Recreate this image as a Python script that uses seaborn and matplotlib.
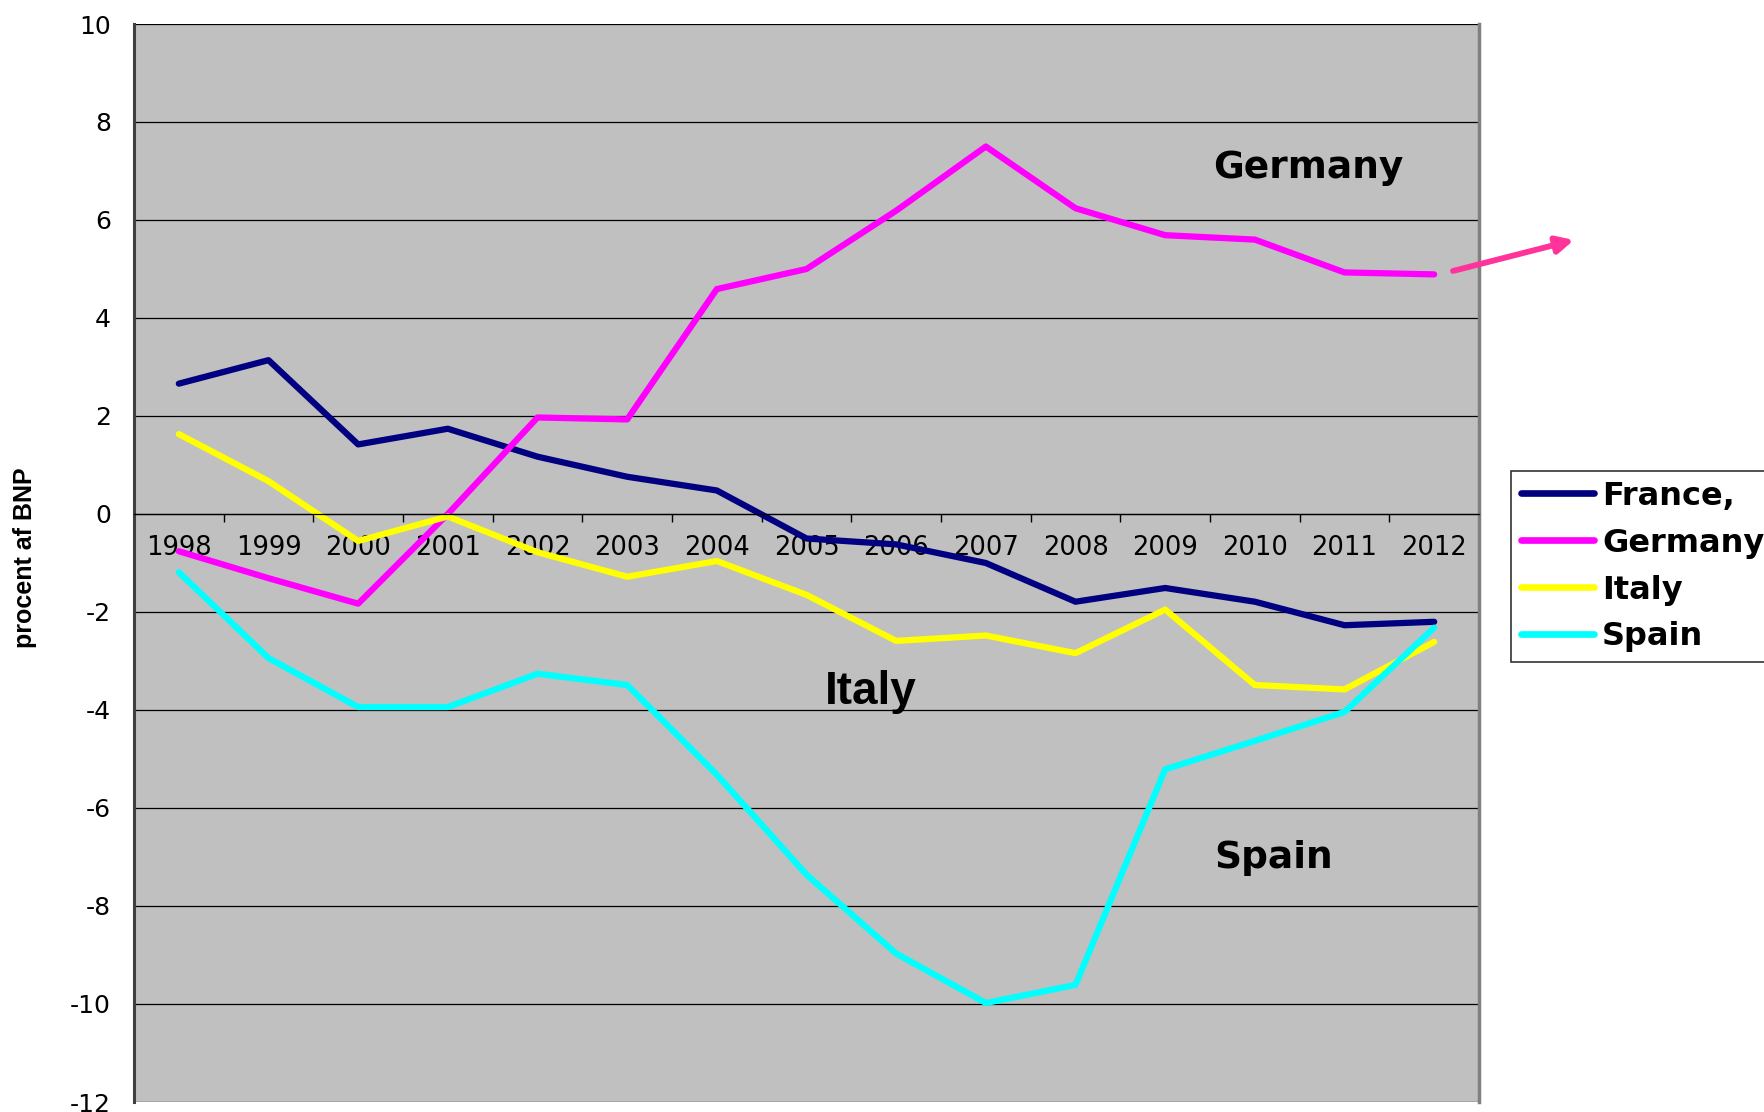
import numpy as np
import pandas as pd
import matplotlib
matplotlib.use("Agg")
import matplotlib.pyplot as plt
import seaborn as sns
from matplotlib.ticker import FixedLocator

years = [1998, 1999, 2000, 2001, 2002, 2003, 2004, 2005, 2006, 2007, 2008, 2009, 2010, 2011, 2012]
france = [2.66, 3.14, 1.42, 1.74, 1.17, 0.76, 0.48, -0.50, -0.62, -1.00, -1.79, -1.51, -1.79, -2.27, -2.20]
germany = [-0.76, -1.31, -1.83, 0.00, 1.97, 1.93, 4.59, 5.00, 6.19, 7.50, 6.24, 5.69, 5.60, 4.93, 4.89]
italy = [1.63, 0.67, -0.55, -0.05, -0.78, -1.28, -0.96, -1.65, -2.59, -2.48, -2.84, -1.95, -3.49, -3.58, -2.61]
spain = [-1.19, -2.94, -3.94, -3.94, -3.26, -3.49, -5.32, -7.36, -8.97, -9.98, -9.61, -5.21, -4.63, -4.04, -2.32]
countries = ["France,", "Germany", "Italy", "Spain"]
colors = ["#000080", "#FF00FF", "#FFFF00", "#00FFFF"]
y_ticks = [10, 8, 6, 4, 2, 0, -2, -4, -6, -8, -10, -12]
y_label = "procent af BNP"

series = [france, germany, italy, spain]
rows = []
for name, vals in zip(countries, series):
    for i, (yr, v) in enumerate(zip(years, vals)):
        rows.append({"idx": i, "year": yr, "value": v, "country": name})
df = pd.DataFrame(rows)

sns.set_style("white")
plt.rcParams["font.family"] = ["DejaVu Sans"]
plt.rcParams["text.color"] = "black"
plt.rcParams["axes.labelcolor"] = "black"
plt.rcParams["xtick.color"] = "black"
plt.rcParams["ytick.color"] = "black"
plt.rcParams["xtick.labelcolor"] = "black"
plt.rcParams["ytick.labelcolor"] = "black"

fig = plt.figure(figsize=(17.64, 11.12), dpi=100)
fig.patch.set_facecolor("white")
ax = fig.add_axes([134 / 1764, 1 - 1102 / 1112, 1345 / 1764, 1078 / 1112])
ax.set_facecolor("#C0C0C0")

sns.lineplot(data=df, x="idx", y="value", hue="country", hue_order=countries,
             palette=dict(zip(countries, colors)), linewidth=4.5, sort=False,
             ax=ax, legend=True)
for ln in ax.get_lines():
    ln.set_solid_capstyle("round")
    ln.set_solid_joinstyle("round")

n = len(years)
ax.set_xlim(-0.5, n - 0.5)
ax.set_ylim(min(y_ticks), max(y_ticks))

# y axis
ax.set_yticks(y_ticks)
ax.set_yticklabels([str(t) for t in y_ticks], fontsize=18, color="black")
ax.tick_params(axis="y", direction="out", length=6.5, width=1, color="black", pad=10)
ax.yaxis.grid(True, color="black", linewidth=0.9)
ax.xaxis.grid(False)

# x axis crossing at 0
ax.spines["bottom"].set_position(("data", 0))
ax.spines["bottom"].set_color("black")
ax.spines["bottom"].set_linewidth(0.9)
ax.spines["top"].set_visible(False)
ax.spines["left"].set_color("#404040")
ax.spines["left"].set_linewidth(2.2)
ax.spines["right"].set_color("#808080")
ax.spines["right"].set_linewidth(2.5)
ax.set_xticks(range(n))
ax.set_xticklabels([str(y) for y in years], fontsize=18.5, color="black")
ax.xaxis.set_minor_locator(FixedLocator([i + 0.5 for i in range(-1, n)]))
ax.tick_params(axis="x", which="major", length=0, pad=15)
ax.tick_params(axis="x", which="minor", direction="out", length=6, width=1, color="black", bottom=True)

ax.set_xlabel("")
ax.set_ylabel(y_label, fontsize=18, fontweight="bold", family="Liberation Sans", color="black")
ax.yaxis.set_label_coords(-0.072, 0.505)

# annotations
ax.text(12.60, 6.86, "Germany", fontsize=27, fontweight="bold", ha="center", va="baseline",
        family="DejaVu Sans", color="black")
ax.text(7.72, -3.87, "Italy", fontsize=33, fontweight="bold", ha="center", va="baseline",
        family="Liberation Sans", color="black")
ax.text(12.21, -7.22, "Spain", fontsize=27, fontweight="bold", ha="center", va="baseline",
        family="DejaVu Sans", color="black")
ax.annotate("", xy=(1.0706, 0.7996), xycoords="axes fraction",
            xytext=(14.21, 4.96), textcoords="data",
            arrowprops=dict(arrowstyle="-|>,head_length=1.0,head_width=0.5",
                            color="#FF3399", lw=4.2, shrinkA=0, shrinkB=0),
            annotation_clip=False)

handles, labels = ax.get_legend_handles_labels()
leg = ax.legend(handles, labels, loc="upper left",
                bbox_to_anchor=(1511 / 1764, 1 - 471 / 1112), bbox_transform=fig.transFigure,
                frameon=True, fancybox=False, edgecolor="black", facecolor="white",
                prop=dict(family="DejaVu Sans", weight="bold", size=23),
                handlelength=2.3, handletextpad=0.25, labelspacing=0.5,
                borderpad=0.3, borderaxespad=0)
leg.get_frame().set_linewidth(1.2)
for t in leg.get_texts():
    t.set_color("black")
for h in leg.get_lines():
    h.set_linewidth(4.8)
    h.set_solid_capstyle("round")

fig.savefig("out.png", dpi=100)
